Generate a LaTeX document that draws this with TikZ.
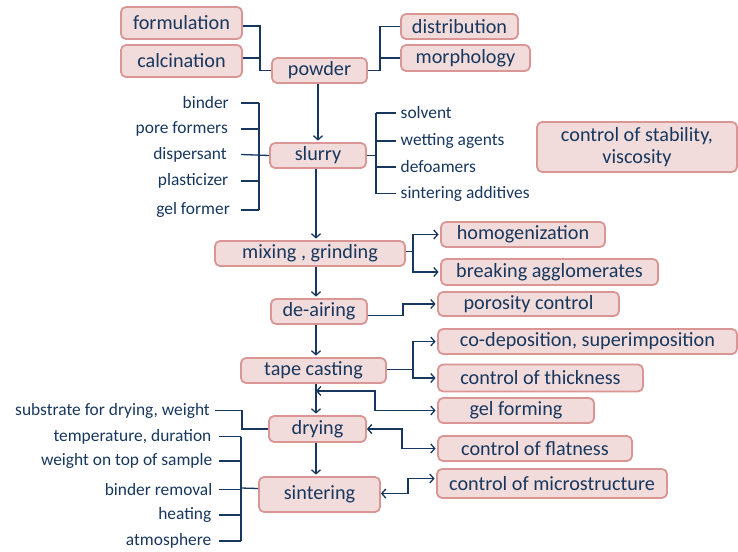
\documentclass[tikz,border=0pt]{standalone}
\usepackage{fontspec}
\setmainfont{Carlito}
\usetikzlibrary{arrows.meta,calc}
\definecolor{navy}{RGB}{23,55,94}
\definecolor{boxfill}{RGB}{242,220,219}
\definecolor{boxline}{RGB}{217,150,148}
\begin{document}
\begin{tikzpicture}[x=1pt,y=-1pt,
 box/.style={draw=boxline, fill=boxfill, line width=1.8pt, rounded corners=5pt, text=navy, font=\fontsize{20.2}{22}\selectfont, inner sep=0pt, anchor=center},
 lbl/.style={text=navy, font=\fontsize{17.4}{19}\selectfont, inner sep=0pt},
 ln/.style={draw=navy, line width=1.3pt},
 arr/.style={ln, -{Straight Barb[length=4pt,width=9pt]}, shorten >=1.5pt},
 darr/.style={ln, {Straight Barb[length=4pt,width=9pt]}-{Straight Barb[length=4pt,width=9pt]}, shorten >=1.5pt}]
\useasboundingbox (0,0) rectangle (738,551);

% boxes
\node[box, minimum width=121pt, minimum height=32pt] (form) at (181.5,23) {formulation};
\node[box, minimum width=121pt, minimum height=32pt] (calc) at (181.5,61) {calcination};
\node[box, minimum width=95pt, minimum height=25pt] (powder) at (319.5,70.5) {powder};
\node[box, minimum width=117pt, minimum height=25pt] (distr) at (459.5,26.5) {distribution};
\node[box, minimum width=129pt, minimum height=26pt] (morph) at (465.5,58) {morphology};
\node[box, minimum width=96pt, minimum height=25pt] (slurry) at (318,155.5) {slurry};
\node[box, minimum width=200pt, minimum height=50pt, align=center] (stab) at (637,147) {control of stability,\\viscosity};
\node[box, minimum width=190pt, minimum height=25pt] (mix) at (310,253.5) {mixing , grinding};
\node[box, minimum width=164pt, minimum height=25pt] (homog) at (523,234.5) {homogenization};
\node[box, minimum width=217pt, minimum height=26pt] (brk) at (549.5,272) {breaking agglomerates};
\node[box, minimum width=96pt, minimum height=25pt] (deair) at (319,311.5) {de-airing};
\node[box, minimum width=181pt, minimum height=24pt] (poros) at (528.5,304) {porosity control};
\node[box, minimum width=145pt, minimum height=25pt] (tape) at (313.5,370.5) {tape casting};
\node[box, minimum width=299pt, minimum height=25pt] (codep) at (587.5,341.5) {co-deposition, superimposition};
\node[box, minimum width=205pt, minimum height=27pt] (thick) at (540.5,378) {control of thickness};
\node[box, minimum width=156pt, minimum height=25pt] (gel) at (516,410.5) {gel forming};
\node[box, minimum width=97pt, minimum height=26pt] (drying) at (317.5,429) {drying};
\node[box, minimum width=194pt, minimum height=25pt] (flat) at (535,448.5) {control of flatness};
\node[box, minimum width=121pt, minimum height=35pt] (sinter) at (319.5,494.5) {sintering};
\node[box, minimum width=230pt, minimum height=29pt] (micro) at (552,483.5) {control of microstructure};

% plain labels left of slurry
\node[lbl, anchor=east] (binder) at (229,103) {binder};
\node[lbl, anchor=east] (pore) at (228,129) {pore formers};
\node[lbl, anchor=east] (disp) at (227,154.5) {dispersant};
\node[lbl, anchor=east] (plast) at (228.5,181) {plasticizer};
\node[lbl, anchor=east] (gelf) at (230,210) {gel former};
% right of slurry
\node[lbl, anchor=west] (solv) at (400.5,113) {solvent};
\node[lbl, anchor=west] (wett) at (400.5,141) {wetting agents};
\node[lbl, anchor=west] (defo) at (400.5,167) {defoamers};
\node[lbl, anchor=west] (sinta) at (400.5,193.5) {sintering additives};
% drying / sintering labels
\node[lbl, anchor=east] (subst) at (210,410.5) {substrate for drying, weight};
\node[lbl, anchor=east] (temp) at (211.5,436.5) {temperature, duration};
\node[lbl, anchor=east] (wtop) at (212.5,461) {weight on top of sample};
\node[lbl, anchor=east] (brem) at (212.5,489.5) {binder removal};
\node[lbl, anchor=east] (heat) at (211.5,515) {heating};
\node[lbl, anchor=east] (atmo) at (211.5,541) {atmosphere};

% helper coordinates
\coordinate (mx) at (316,0);
\coordinate (lbar) at (259,0);
\coordinate (rbar) at (376,0);
\coordinate (dbar) at (242,0);
\coordinate (sbar) at (241,0);
\coordinate (gj) at (316,391);

% powder inputs / outputs
\draw[ln] ([yshift=-3pt]form.east) -- ++(17,0) |- (powder.west);
\draw[ln] ([yshift=3pt]calc.east) -- ++(17,0);
\draw[ln] (powder.east) -- ++(12,0) |- (distr.west);
\draw[ln] (powder.east) -- ++(12,0) |- (morph.west);

% slurry inputs
\draw[ln] ([xshift=12pt]binder.east) -- (lbar |- binder.east);
\draw[ln] ([xshift=13pt]pore.east) -- (lbar |- pore.east);
\draw[ln] ([xshift=14pt]disp.east) -- (slurry.west);
\draw[ln] ([xshift=12.5pt]plast.east) -- (lbar |- plast.east);
\draw[ln] ([xshift=11pt]gelf.east) -- (lbar |- gelf.east);
\draw[ln] (lbar |- binder.east) -- (lbar |- gelf.east);
% slurry outputs
\draw[ln] (slurry.east) -- (rbar |- slurry.east);
\draw[ln] (rbar |- solv.west) -- (rbar |- sinta.west);
\draw[ln] ([xshift=-5pt]solv.west) -- (rbar |- solv.west);
\draw[ln] ([xshift=-5pt]wett.west) -- (rbar |- wett.west);
\draw[ln] ([xshift=-5pt]defo.west) -- (rbar |- defo.west);
\draw[ln] ([xshift=-5pt]sinta.west) -- (rbar |- sinta.west);

% main chain
\draw[arr] (powder.south -| mx) ++(2,0) -- ($(slurry.north -| mx)+(2,0)$);
\draw[arr] (mx |- slurry.south) -- (mx |- mix.north);
\draw[arr] (mx |- mix.south) -- (mx |- deair.north);
\draw[arr] (mx |- deair.south) -- (mx |- tape.north);
\draw[arr] (mx |- tape.south) -- (mx |- drying.north);
\draw[arr] (mx |- drying.south) -- (mx |- sinter.north);

% side branches
\draw[arr] ([yshift=2pt]mix.east) -- ++(7,0) |- (homog.west);
\draw[arr] ([yshift=2pt]mix.east) -- ++(7,0) |- (brk.west);
\draw[arr] ([yshift=-4pt]deair.east) -- ++(35,0) |- (poros.west);
\draw[arr] ([yshift=1pt]tape.east) -- ++(26,0) |- (codep.west);
\draw[arr] ([yshift=1pt]tape.east) -- ++(26,0) |- (thick.west);
\draw[darr] (gj) -- ++(59,0) |- (gel.west);
\draw[darr] (drying.east) -- ++(35,0) |- (flat.west);
\draw[darr] ([yshift=1pt]sinter.east) -- ++(27,0) |- ([yshift=5pt]micro.west);

% drying input
\draw[ln] ([xshift=5pt]subst.east) -- (dbar |- subst.east) |- (drying.west);
% sintering inputs
\draw[ln] ([xshift=7pt]temp.east) -- (sbar |- temp.east);
\draw[ln] ([xshift=6pt]wtop.east) -- (sbar |- wtop.east);
\draw[ln] ([xshift=6pt]brem.east) -- (sbar |- brem.east);
\draw[ln] ([xshift=7pt]heat.east) -- (sbar |- heat.east);
\draw[ln] ([xshift=7pt]atmo.east) -- (sbar |- atmo.east);
\draw[ln] (sbar |- temp.east) -- (sbar |- atmo.east);
\draw[ln] (sbar |- 0,488) -- ([yshift=6pt]sinter.west);
\end{tikzpicture}
\end{document}
